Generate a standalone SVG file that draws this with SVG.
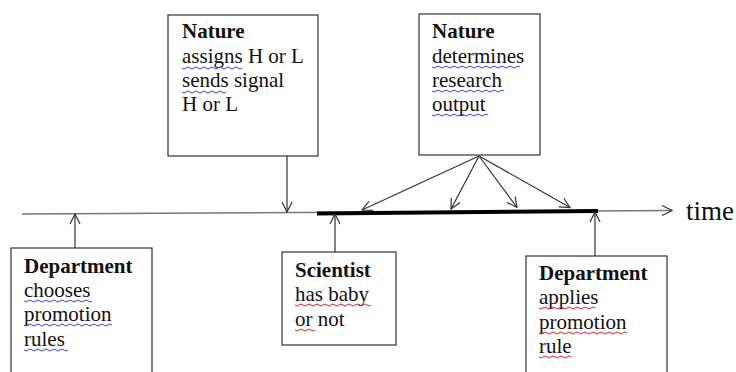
<svg xmlns="http://www.w3.org/2000/svg" width="736" height="372" viewBox="0 0 736 372">
<style>
.box{fill:#fff;stroke:#333;stroke-width:1.2}
.t{font-family:"Liberation Serif","Times New Roman",serif;font-size:21px;fill:#111}
.b{font-weight:bold}
.c{fill:none;stroke:#333;stroke-width:1.2}
.sq{fill:none;stroke-width:1}
.blue{stroke:#3344dd}
.red{stroke:#dd2222}
</style>
<defs>
<marker id="ah" viewBox="0 0 12 12" refX="11" refY="6" markerWidth="12" markerHeight="12" markerUnits="userSpaceOnUse" orient="auto">
<path d="M1,1 L11,6 L1,11" fill="none" stroke="#333" stroke-width="1.2"/>
</marker>
</defs>
<rect width="736" height="372" fill="#fff"/>
<g id="connectors">
<line x1="22" y1="214" x2="672" y2="210.5" stroke="#777" stroke-width="1.5" marker-end="url(#ah)"/>
<line x1="317" y1="213.5" x2="598" y2="211" stroke="#000" stroke-width="4"/>
<line class="c" x1="75" y1="248" x2="75" y2="214" marker-end="url(#ah)"/>
<line class="c" x1="287" y1="156" x2="287" y2="212" marker-end="url(#ah)"/>
<line class="c" x1="335" y1="252" x2="335" y2="214" marker-end="url(#ah)"/>
<line class="c" x1="595" y1="256" x2="595" y2="212" marker-end="url(#ah)"/>
<line class="c" x1="479" y1="156" x2="362" y2="210" marker-end="url(#ah)"/>
<line class="c" x1="479" y1="156" x2="451" y2="209" marker-end="url(#ah)"/>
<line class="c" x1="479" y1="156" x2="517" y2="207.5" marker-end="url(#ah)"/>
<line class="c" x1="479" y1="156" x2="570" y2="207.5" marker-end="url(#ah)"/>
</g>
<g id="dept1">
<rect class="box" x="11" y="248" width="141" height="130"/>
<text class="t b" x="24" y="273">Department</text>
<text class="t" x="24" y="297">chooses</text>
<text class="t" x="24" y="321">promotion</text>
<text class="t" x="24" y="346">rules</text>
<path class="sq blue" d="M24,301 q2,2 4,0 t4,0 t4,0 t4,0 t4,0 t4,0 t4,0 t4,0 t4,0 t4,0 t4,0 t4,0 t4,0 t4,0 t4,0 t4,0 t4,0"/>
<path class="sq blue" d="M24,325 q2,2 4,0 t4,0 t4,0 t4,0 t4,0 t4,0 t4,0 t4,0 t4,0 t4,0 t4,0 t4,0 t4,0 t4,0 t4,0 t4,0 t4,0 t4,0 t4,0 t4,0 t4,0 t4,0"/>
<path class="sq blue" d="M24,350 q2,2 4,0 t4,0 t4,0 t4,0 t4,0 t4,0 t4,0 t4,0 t4,0 t4,0 t4,0"/>
</g>
<g id="nature1">
<rect class="box" x="168" y="15" width="150" height="141"/>
<text class="t b" x="182" y="38">Nature</text>
<text class="t" x="182" y="63">assigns H or L</text>
<text class="t" x="182" y="87">sends signal</text>
<text class="t" x="182" y="111">H or L</text>
<path class="sq blue" d="M182,68 q2,2 4,0 t4,0 t4,0 t4,0 t4,0 t4,0 t4,0 t4,0 t4,0 t4,0 t4,0 t4,0 t4,0 t4,0 t4,0"/>
<path class="sq blue" d="M182,92 q2,2 4,0 t4,0 t4,0 t4,0 t4,0 t4,0 t4,0 t4,0 t4,0 t4,0 t4,0"/>
</g>
<g id="nature2">
<rect class="box" x="419" y="14" width="121" height="141"/>
<text class="t b" x="432" y="38">Nature</text>
<text class="t" x="432" y="63">determines</text>
<text class="t" x="432" y="87">research</text>
<text class="t" x="432" y="111">output</text>
<path class="sq blue" d="M432,67 q2,2 4,0 t4,0 t4,0 t4,0 t4,0 t4,0 t4,0 t4,0 t4,0 t4,0 t4,0 t4,0 t4,0 t4,0 t4,0 t4,0 t4,0 t4,0 t4,0 t4,0 t4,0 t4,0"/>
<path class="sq blue" d="M432,91 q2,2 4,0 t4,0 t4,0 t4,0 t4,0 t4,0 t4,0 t4,0 t4,0 t4,0 t4,0 t4,0 t4,0 t4,0 t4,0 t4,0 t4,0 t4,0"/>
<path class="sq blue" d="M432,115 q2,2 4,0 t4,0 t4,0 t4,0 t4,0 t4,0 t4,0 t4,0 t4,0 t4,0 t4,0 t4,0 t4,0 t4,0"/>
</g>
<g id="scientist">
<rect class="box" x="282" y="252" width="114" height="93"/>
<text class="t b" x="295" y="277">Scientist</text>
<text class="t" x="295" y="301">has baby</text>
<text class="t" x="295" y="326">or not</text>
<path class="sq red" d="M295,305 q2,2 4,0 t4,0 t4,0 t4,0 t4,0 t4,0 t4,0 t4,0 t4,0 t4,0 t4,0 t4,0 t4,0 t4,0 t4,0 t4,0 t4,0 t4,0 t4,0"/>
<path class="sq red" d="M295,330 q2,2 4,0 t4,0 t4,0 t4,0 t4,0"/>
</g>
<g id="dept2">
<rect class="box" x="526" y="256" width="141" height="122"/>
<text class="t b" x="539" y="280">Department</text>
<text class="t" x="539" y="304">applies</text>
<text class="t" x="539" y="329">promotion</text>
<text class="t" x="539" y="353">rule</text>
<path class="sq red" d="M539,308 q2,2 4,0 t4,0 t4,0 t4,0 t4,0 t4,0 t4,0 t4,0 t4,0 t4,0 t4,0 t4,0 t4,0 t4,0"/>
<path class="sq red" d="M539,333 q2,2 4,0 t4,0 t4,0 t4,0 t4,0 t4,0 t4,0 t4,0 t4,0 t4,0 t4,0 t4,0 t4,0 t4,0 t4,0 t4,0 t4,0 t4,0 t4,0 t4,0 t4,0 t4,0"/>
<path class="sq red" d="M539,357 q2,2 4,0 t4,0 t4,0 t4,0 t4,0 t4,0 t4,0 t4,0"/>
</g>
<g id="time">
<text class="t" x="686" y="220" style="font-size:27px">time</text>
</g>
</svg>
